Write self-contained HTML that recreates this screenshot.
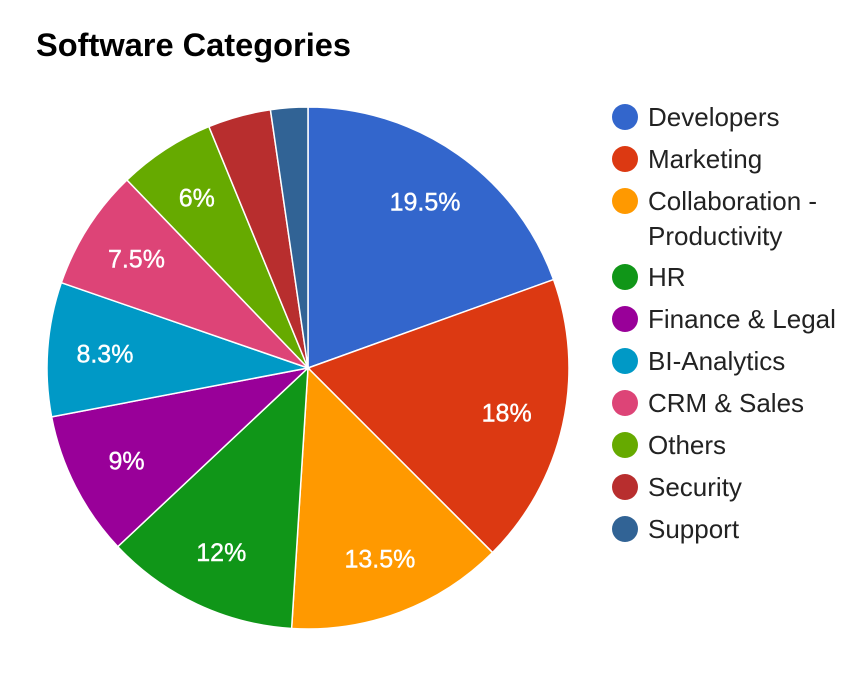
<!DOCTYPE html>
<html><head><meta charset="utf-8"><style>
body{margin:0;background:#fff;width:862px;height:678px;overflow:hidden;font-family:"Liberation Sans",Arial,sans-serif}
</style></head><body>
<svg id="chart" width="862" height="678" xmlns="http://www.w3.org/2000/svg">
<text x="36" y="56" font-size="32.6" font-weight="bold" fill="#000">Software Categories</text>
<g id="slices"></g><g id="labels"></g><g id="legend"></g>
</svg>
<script>
const categories=["Developers","Marketing","Collaboration - Productivity","HR","Finance & Legal","BI-Analytics","CRM & Sales","Others","Security","Support"];
const values=[19.5,18,13.5,12,9,8.3,7.5,6,3.9,2.3];
const printed=["19.5%","18%","13.5%","12%","9%","8.3%","7.5%","6%","",""];
const colors=["#3366cc","#dc3912","#ff9900","#109618","#990099","#0099c6","#dd4477","#66aa00","#b82e2e","#316395"];
const NS="http://www.w3.org/2000/svg";
const cx=308,cy=368,r=261;
const total=values.reduce((a,b)=>a+b,0);
function pt(a,rr){return [cx+rr*Math.sin(a),cy-rr*Math.cos(a)];}
const sg=document.getElementById('slices'),lg=document.getElementById('labels'),leg=document.getElementById('legend');
let acc=0;
values.forEach((v,i)=>{
  const a0=acc/total*2*Math.PI; acc+=v; const a1=acc/total*2*Math.PI;
  const p0=pt(a0,r),p1=pt(a1,r);
  const p=document.createElementNS(NS,'path');
  p.setAttribute('d',`M${cx},${cy}L${p0[0]},${p0[1]}A${r},${r} 0 ${a1-a0>Math.PI?1:0} 1 ${p1[0]},${p1[1]}Z`);
  p.setAttribute('fill',colors[i]);p.setAttribute('stroke','#fff');p.setAttribute('stroke-width','1.5');
  
  
  sg.appendChild(p);
  if(printed[i]){
    const m=pt((a0+a1)/2,r*0.78);
    const t=document.createElementNS(NS,'text');
    t.setAttribute('x',m[0]);t.setAttribute('y',m[1]+9);t.setAttribute('text-anchor','middle');
    t.setAttribute('font-size','25');t.setAttribute('fill','#fff');t.setAttribute('stroke','#fff');t.setAttribute('stroke-width','0.4');
    t.textContent=printed[i];
    
    
    lg.appendChild(t);
  }
});
const rowsY=[117,159,201,277,319,361,403,445,487,529];
categories.forEach((c,i)=>{
  const g=document.createElementNS(NS,'g');
  
  
  const ci=document.createElementNS(NS,'circle');
  ci.setAttribute('cx',625);ci.setAttribute('cy',rowsY[i]);ci.setAttribute('r',13);ci.setAttribute('fill',colors[i]);
  g.appendChild(ci);
  const parts=c==="Collaboration - Productivity"?["Collaboration -","Productivity"]:[c];
  parts.forEach((s,j)=>{
    const t=document.createElementNS(NS,'text');
    t.setAttribute('x',648);t.setAttribute('y',rowsY[i]+9+j*35);t.setAttribute('font-size','26');t.setAttribute('fill','#222');
    t.textContent=s;g.appendChild(t);
  });
  leg.appendChild(g);
});
</script>
</body></html>
